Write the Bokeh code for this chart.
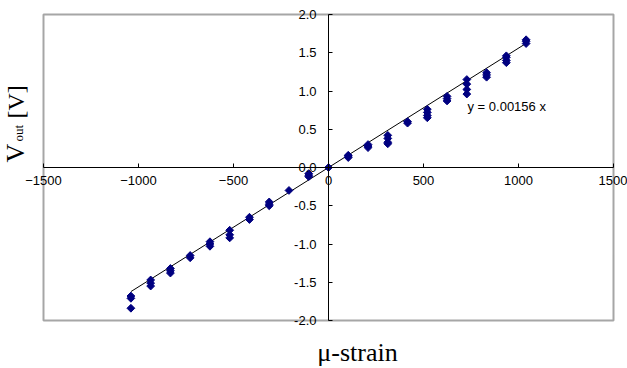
import math
from bokeh.plotting import figure
from bokeh.models import (LinearAxis, FixedTicker, PrintfTickFormatter, Range1d,
                          Label, ColumnDataSource)
from bokeh.embed import file_html
from bokeh.resources import INLINE

# ---- data ----
strain_levels = [-1040, -936, -832, -728, -624, -520, -416, -312, -208, -104, 0,
                 104, 208, 312, 416, 520, 624, 728, 832, 936, 1040]
vout_readings = [
    [-1.68, -1.71, -1.84],
    [-1.47, -1.51, -1.55],
    [-1.32, -1.35, -1.38],
    [-1.15, -1.18],
    [-0.97, -1.00, -1.03],
    [-0.82, -0.88, -0.92],
    [-0.65, -0.68],
    [-0.45, -0.48, -0.50],
    [-0.30],
    [-0.08, -0.10, -0.12],
    [0.0],
    [0.13, 0.15, 0.16],
    [0.26, 0.28, 0.30],
    [0.31, 0.33, 0.38, 0.42],
    [0.58, 0.60],
    [0.65, 0.68, 0.72, 0.76],
    [0.87, 0.90, 0.93],
    [0.96, 1.02, 1.09, 1.15],
    [1.18, 1.21, 1.24],
    [1.37, 1.40, 1.44, 1.46],
    [1.62, 1.65, 1.67],
]
fit_slope = 0.00156
fit_label = "y = 0.00156 x"
x_ticks = [-1500, -1000, -500, 0, 500, 1000, 1500]
y_ticks = [-2.0, -1.5, -1.0, -0.5, 0.0, 0.5, 1.0, 1.5, 2.0]
x_title = "μ-strain"

xs, ys = [], []
for s, vals in zip(strain_levels, vout_readings):
    for v in vals:
        xs.append(s)
        ys.append(v)

# ---- layout (canvas pixels) ----
W, H = 627, 368
X0, X1 = x_ticks[0], x_ticks[-1]
Y0, Y1 = y_ticks[0], y_ticks[-1]
FL, FT, FW, FH = 43, 14, 570, 306   # plot-area box in canvas pixels
kx = (X1 - X0) / FW
ky = (Y1 - Y0) / FH


def dx(sx):
    return X0 + (sx - FL) * kx


def dy(sy):
    return Y1 - (sy - FT) * ky


p = figure(width=W, height=H, output_backend="svg", toolbar_location=None,
           x_range=Range1d(dx(0), dx(W)), y_range=Range1d(dy(H), dy(0)),
           x_axis_type=None, y_axis_type=None,
           min_border_left=0, min_border_right=0, min_border_top=0, min_border_bottom=0)
p.xgrid.visible = False
p.ygrid.visible = False
p.outline_line_color = None
p.background_fill_color = "white"
p.border_fill_color = "white"

# plot-area border
p.quad(left=[X0], right=[X1], bottom=[Y0], top=[Y1], fill_color=None,
       line_color="#a6a6a6", line_width=2)

xaxis = LinearAxis(fixed_location=0, ticker=FixedTicker(ticks=x_ticks), bounds=(X0, X1))
yaxis = LinearAxis(fixed_location=0, ticker=FixedTicker(ticks=y_ticks), bounds=(Y0, Y1),
                   formatter=PrintfTickFormatter(format="%.1f"))
for ax in (xaxis, yaxis):
    ax.axis_line_color = "black"
    ax.axis_line_width = 1
    ax.major_tick_in = 4
    ax.major_tick_out = 0
    ax.major_tick_line_color = "black"
    ax.minor_tick_line_color = None
    ax.major_label_text_font = "Liberation Sans"
    ax.major_label_text_font_size = "13px"
    ax.major_label_text_color = "black"
xaxis.major_label_standoff = 8
yaxis.major_label_standoff = 12
p.add_layout(xaxis, "below")
p.add_layout(yaxis, "left")

# trend line
fx = [min(xs), max(xs)]
fy = [fit_slope * v for v in fx]
p.line(fx, fy, line_color="black", line_width=1)

# data points
src = ColumnDataSource(data=dict(x=xs, y=ys))
p.scatter("x", "y", source=src, marker="square", angle=math.pi / 4, size=5.5,
          fill_color="#000080", line_color="#000080")

# trendline label
p.add_layout(Label(x=dx(467), y=dy(106), text=fit_label, text_font="Liberation Sans",
                   text_font_size="13px", text_baseline="middle", text_align="left",
                   text_color="black"))

# x title
p.add_layout(Label(x=dx(357), y=dy(352), text=x_title, text_font="Liberation Serif",
                   text_font_size="26px", text_baseline="middle", text_align="center",
                   text_color="black"))

# y title: V_out [V] rotated
rot = math.pi / 2
p.add_layout(Label(x=dx(15), y=dy(162), text="V", angle=rot, text_font="Liberation Serif",
                   text_font_size="26px", text_baseline="middle", text_align="left",
                   text_color="black"))
p.add_layout(Label(x=dx(18), y=dy(141), text="out", angle=rot, text_font="Liberation Serif",
                   text_font_size="13px", text_baseline="middle", text_align="left",
                   text_color="black"))
p.add_layout(Label(x=dx(15), y=dy(118), text="[V]", angle=rot, text_font="Liberation Serif",
                   text_font_size="24px", text_baseline="middle", text_align="left",
                   text_color="black"))

open("out.html", "w").write(file_html(p, INLINE))
